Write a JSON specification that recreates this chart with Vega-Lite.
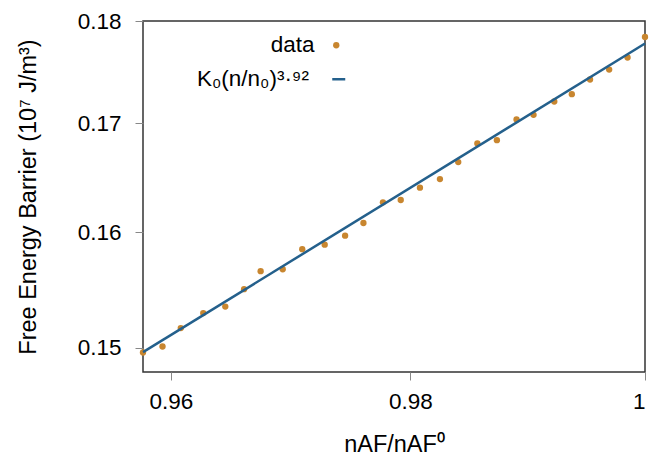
{
  "$schema": "https://vega.github.io/schema/vega-lite/v6.json",
  "width": 502,
  "height": 351,
  "autosize": "none",
  "padding": {"left": 143, "top": 21, "right": 6, "bottom": 85},
  "config": {
    "font": "Liberation Sans",
    "view": {"stroke": "#333333", "strokeWidth": 1.5},
    "axis": {
      "domain": false,
      "grid": false,
      "tickColor": "#888888",
      "tickSize": 8,
      "tickWidth": 1,
      "labelFontSize": 22.5,
      "labelColor": "#000000",
      "titleFontSize": 23.5,
      "titleFontWeight": "normal",
      "titleColor": "#000000"
    },
    "legend": {"padding": 0, "labelFontSize": 22.5, "labelColor": "#000000", "title": null}
  },
  "datasets": {
    "pts": [
      {"n": 0.95770, "b": 0.14962, "s": "data"},
      {"n": 0.95931, "b": 0.15012, "s": "data"},
      {"n": 0.96082, "b": 0.15167, "s": "data"},
      {"n": 0.96268, "b": 0.15294, "s": "data"},
      {"n": 0.96451, "b": 0.15350, "s": "data"},
      {"n": 0.96607, "b": 0.15500, "s": "data"},
      {"n": 0.96745, "b": 0.15656, "s": "data"},
      {"n": 0.96929, "b": 0.15673, "s": "data"},
      {"n": 0.97092, "b": 0.15849, "s": "data"},
      {"n": 0.97280, "b": 0.15889, "s": "data"},
      {"n": 0.97451, "b": 0.15969, "s": "data"},
      {"n": 0.97605, "b": 0.16082, "s": "data"},
      {"n": 0.97769, "b": 0.16269, "s": "data"},
      {"n": 0.97919, "b": 0.16290, "s": "data"},
      {"n": 0.98081, "b": 0.16402, "s": "data"},
      {"n": 0.98250, "b": 0.16481, "s": "data"},
      {"n": 0.98405, "b": 0.16638, "s": "data"},
      {"n": 0.98567, "b": 0.16812, "s": "data"},
      {"n": 0.98733, "b": 0.16843, "s": "data"},
      {"n": 0.98900, "b": 0.17038, "s": "data"},
      {"n": 0.99045, "b": 0.17082, "s": "data"},
      {"n": 0.99222, "b": 0.17210, "s": "data"},
      {"n": 0.99372, "b": 0.17280, "s": "data"},
      {"n": 0.99528, "b": 0.17422, "s": "data"},
      {"n": 0.99692, "b": 0.17519, "s": "data"},
      {"n": 0.99850, "b": 0.17637, "s": "data"},
      {"n": 1.00000, "b": 0.17840, "s": "data"}
    ],
    "fit": [
      {"n": 0.9577, "b": 0.14965, "f": "K₀(n/n₀)³·⁹²"},
      {"n": 1.0, "b": 0.17775, "f": "K₀(n/n₀)³·⁹²"}
    ]
  },
  "layer": [
    {
      "data": {"name": "pts"},
      "mark": {"type": "point", "filled": true, "size": 40, "opacity": 1, "clip": false},
      "encoding": {
        "x": {
          "field": "n", "type": "quantitative",
          "scale": {"type": "log", "domain": [0.9577, 1.0], "nice": false},
          "axis": {"values": [0.96, 0.98, 1], "format": "~g", "labelPadding": 10, "title": "nAF/nAF⁰", "titlePadding": 20}
        },
        "y": {
          "field": "b", "type": "quantitative",
          "scale": {"type": "log", "domain": [0.148, 0.18], "nice": false},
          "axis": {"values": [0.15, 0.16, 0.17, 0.18], "format": ".2f", "labelPadding": 14, "title": "Free Energy Barrier (10⁷ J/m³)", "titlePadding": 37}
        },
        "color": {
          "field": "s", "type": "nominal",
          "scale": {"domain": ["data"], "range": ["#c8862f"]},
          "legend": {
            "orient": "none", "legendX": 182, "legendY": 13,
            "labelAlign": "right", "labelOffset": -33,
            "symbolSize": 40, "symbolType": "circle"
          }
        }
      }
    },
    {
      "data": {"name": "fit"},
      "mark": {"type": "line", "strokeWidth": 2.5},
      "encoding": {
        "x": {"field": "n", "type": "quantitative"},
        "y": {"field": "b", "type": "quantitative"},
        "stroke": {
          "field": "f", "type": "nominal",
          "scale": {"domain": ["K₀(n/n₀)³·⁹²"], "range": ["#24608c"]},
          "legend": {
            "orient": "none", "legendX": 184.5, "legendY": 47,
            "labelAlign": "right", "labelOffset": -41,
            "symbolSize": 169, "symbolType": "stroke", "symbolStrokeWidth": 2.5
          }
        }
      }
    }
  ]
}
